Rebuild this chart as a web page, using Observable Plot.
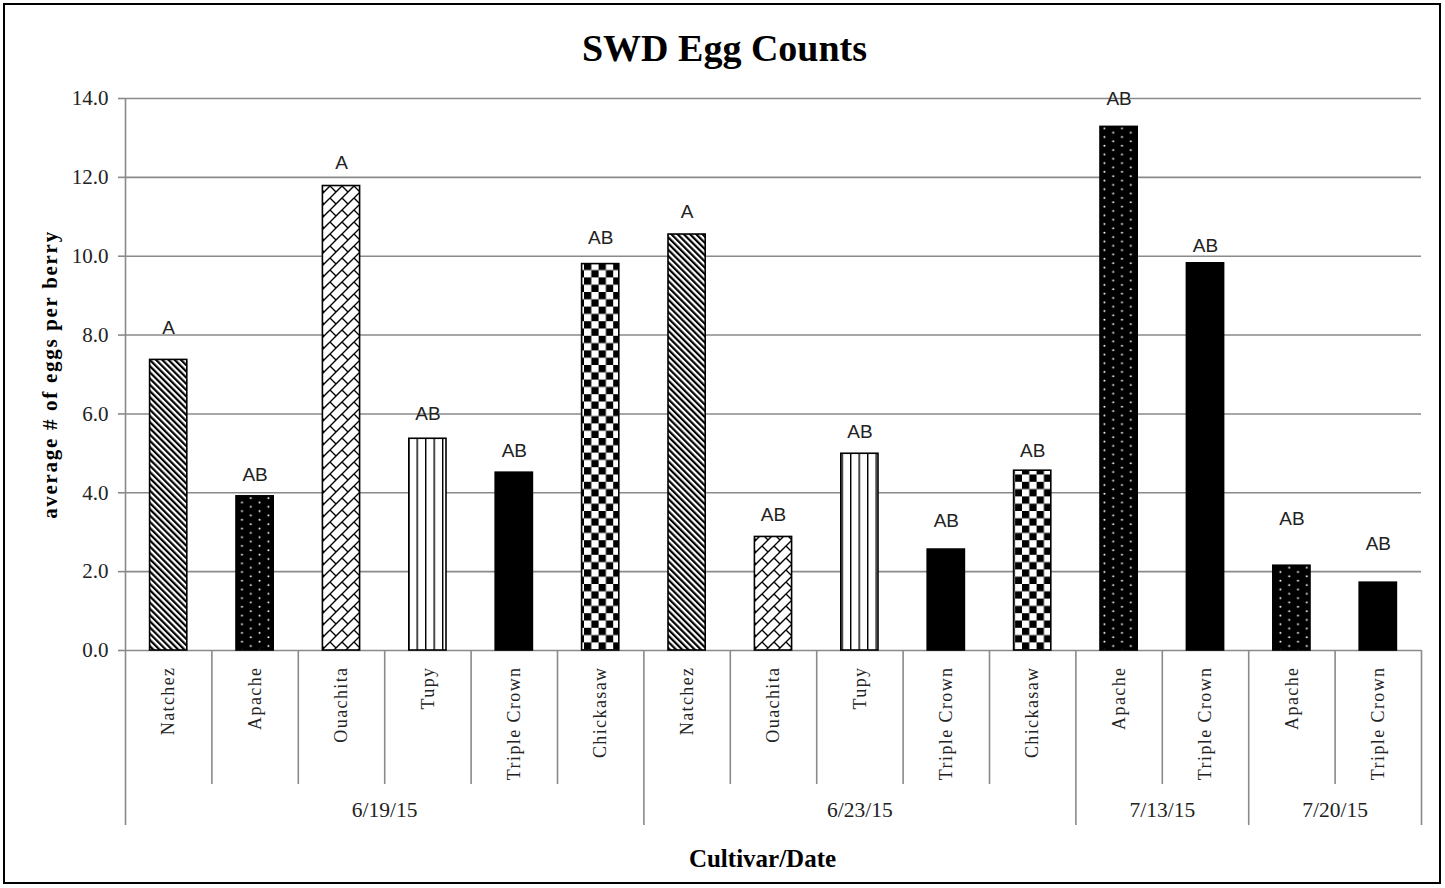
<!DOCTYPE html>
<html>
<head>
<meta charset="utf-8">
<script src="https://cdn.jsdelivr.net/npm/d3@7"></script>
<script src="https://cdn.jsdelivr.net/npm/@observablehq/plot@0.6"></script>
<style>
  html, body { margin: 0; padding: 0; background: #fff; }
  #wrap { position: relative; width: 1445px; height: 888px; overflow: hidden; }
  #border { position: absolute; left: 3px; top: 3px; width: 1438px; height: 881px; box-sizing: border-box; border: 2px solid #000; pointer-events: none; }
</style>
</head>
<body>
<div id="wrap"><div id="chart"></div><div id="border"></div></div>
<script>
// ---- data ----
const cultivars = ["Natchez", "Apache", "Ouachita", "Tupy", "Triple Crown", "Chickasaw",
                   "Natchez", "Ouachita", "Tupy", "Triple Crown", "Chickasaw",
                   "Apache", "Triple Crown",
                   "Apache", "Triple Crown"];
const dates = ["6/19/15", "6/19/15", "6/19/15", "6/19/15", "6/19/15", "6/19/15",
               "6/23/15", "6/23/15", "6/23/15", "6/23/15", "6/23/15",
               "7/13/15", "7/13/15",
               "7/20/15", "7/20/15"];
const eggsPerBerry = [7.37, 3.91, 11.78, 5.37, 4.51, 9.80,
                      10.55, 2.88, 4.99, 2.56, 4.56,
                      13.28, 9.82,
                      2.15, 1.72];
const letters = ["A", "AB", "A", "AB", "AB", "AB",
                 "A", "AB", "AB", "AB", "AB",
                 "AB", "AB",
                 "AB", "AB"];
// height (in eggs/berry units) at which each significance letter sits
const letterHeights = [8.18, 4.46, 12.36, 5.99, 5.07, 10.47,
                       11.12, 3.44, 5.55, 3.28, 5.06,
                       13.99, 10.27,
                       3.34, 2.70];
const yTicks = [0, 2, 4, 6, 8, 10, 12, 14];
const chartTitle = "SWD Egg Counts";
const yTitle = "average # of eggs per berry";
const xTitle = "Cultivar/Date";

// ---- derived tables ----
const rows = cultivars.map((c, i) => ({
  i, cultivar: c, date: dates[i], eggs: eggsPerBerry[i], letter: letters[i], letterY: letterHeights[i]
}));
const groups = d3.groups(rows, d => d.date).map(([date, rs]) => ({
  date, start: d3.min(rs, r => r.i), end: d3.max(rs, r => r.i) + 1
}));
const groupBounds = Array.from(new Set(groups.flatMap(g => [g.start, g.end])));
const cultivarBounds = d3.range(1, cultivars.length).filter(b => !groupBounds.includes(b));

const patternOf = {
  "Natchez": "url(#pat-natchez)",
  "Apache": "url(#pat-apache)",
  "Ouachita": "url(#pat-ouachita)",
  "Tupy": "url(#pat-tupy)",
  "Triple Crown": "#000",
  "Chickasaw": "url(#pat-chickasaw)"
};

const serif = "'Liberation Serif', 'Times New Roman', serif";
const sans = "'Liberation Sans', Arial, sans-serif";
const gridGray = "#8a8a8a";

const plot = Plot.plot({
  width: 1445,
  height: 888,
  marginLeft: 125,
  marginRight: 24,
  marginTop: 98,
  marginBottom: 238,
  style: { fontFamily: serif, background: "#fff", overflow: "visible" },
  x: { domain: [0, cultivars.length], axis: null },
  y: { domain: [0, 14], axis: null },
  color: { type: "identity" },
  marks: [
    Plot.gridY(yTicks, { stroke: gridGray, strokeOpacity: 1, strokeWidth: 1.6 }),
    Plot.axisY(yTicks, {
      tickSize: 7, tickPadding: 10, tickFormat: d3.format(".1f"),
      fontSize: 21, fontFamily: serif, color: "#222", stroke: gridGray, strokeWidth: 1.6, label: null
    }),
    Plot.ruleX([0], { y1: 0, y2: 14, stroke: gridGray, strokeWidth: 1.6 }),
    // category dividers below the axis
    Plot.ruleX(cultivarBounds, { y1: 0, y2: -3.4, stroke: gridGray, strokeWidth: 1.6 }),
    Plot.ruleX(groupBounds, { y1: 0, y2: -4.44, stroke: gridGray, strokeWidth: 1.6 }),
    // bars
    Plot.rectY(rows, {
      x1: d => d.i, x2: d => d.i + 1, y: "eggs",
      fill: d => patternOf[d.cultivar],
      stroke: "#000", strokeWidth: 1.6,
      insetLeft: 24.6, insetRight: 24.6
    }),
    // significance letters
    Plot.text(rows, {
      x: d => d.i + 0.5, y: "letterY", text: "letter",
      fontFamily: sans, fontSize: 19, fill: "#222", lineAnchor: "middle"
    }),
    // cultivar tick labels
    Plot.text(rows, {
      x: d => d.i + 0.5, y: 0, text: "cultivar", rotate: -90,
      textAnchor: "end", lineAnchor: "middle", dy: 16,
      fontFamily: serif, fontSize: 18, fill: "#222"
    }),
    // date group labels
    Plot.text(groups, {
      x: g => (g.start + g.end) / 2, y: 0, text: "date", dy: 160,
      lineAnchor: "middle", fontFamily: serif, fontSize: 21.5, fill: "#222"
    }),
    // titles
    Plot.text([chartTitle], {
      text: d => d, frameAnchor: "top", dy: -50, dx: -49, lineAnchor: "middle", textAnchor: "middle",
      fontFamily: serif, fontSize: 38, fontWeight: "bold", fill: "#000"
    }),
    Plot.text([yTitle], {
      text: d => d, frameAnchor: "left", rotate: -90, dx: -75, lineAnchor: "middle", textAnchor: "middle",
      fontFamily: serif, fontSize: 21, fontWeight: "bold", fill: "#000"
    }),
    Plot.text([xTitle], {
      text: d => d, frameAnchor: "bottom", dy: 208, dx: -11, lineAnchor: "middle", textAnchor: "middle",
      fontFamily: serif, fontSize: 25, fontWeight: "bold", fill: "#000"
    })
  ]
});

// ---- fill patterns ----
const svgNode = plot.tagName.toLowerCase() === "svg" ? plot : plot.querySelector("svg");
const svg = d3.select(svgNode);
const defs = svg.insert("defs", ":first-child");

// Natchez: wide downward diagonal stripes
const pN = defs.append("pattern").attr("id", "pat-natchez").attr("patternUnits", "userSpaceOnUse")
  .attr("width", 4.4).attr("height", 10).attr("patternTransform", "rotate(-45)");
pN.append("rect").attr("width", 4.4).attr("height", 10).attr("fill", "#fff");
pN.append("rect").attr("width", 2.2).attr("height", 10).attr("fill", "#000");

// Apache: black with white dots
const pA = defs.append("pattern").attr("id", "pat-apache").attr("patternUnits", "userSpaceOnUse")
  .attr("width", 17.6).attr("height", 8.7);
pA.append("rect").attr("width", 17.6).attr("height", 8.7).attr("fill", "#000");
pA.append("circle").attr("cx", 4.4).attr("cy", 2.2).attr("r", 1).attr("fill", "#fff");
pA.append("circle").attr("cx", 13.2).attr("cy", 6.55).attr("r", 1).attr("fill", "#fff");

// Ouachita: diagonal brick
const pO = defs.append("pattern").attr("id", "pat-ouachita").attr("patternUnits", "userSpaceOnUse")
  .attr("width", 12).attr("height", 12);
pO.append("rect").attr("width", 12).attr("height", 12).attr("fill", "#fff");
pO.append("path").attr("d", "M0,12L12,0M-1,1L1,-1M11,13L13,11M6,6L12,12")
  .attr("stroke", "#000").attr("stroke-width", 1.4).attr("fill", "none");

// Tupy: vertical lines
const pT = defs.append("pattern").attr("id", "pat-tupy").attr("patternUnits", "userSpaceOnUse")
  .attr("width", 8.5).attr("height", 10);
pT.append("rect").attr("width", 8.5).attr("height", 10).attr("fill", "#fff");
pT.append("rect").attr("width", 1.4).attr("height", 10).attr("fill", "#000");

// Chickasaw: checkerboard
const pC = defs.append("pattern").attr("id", "pat-chickasaw").attr("patternUnits", "userSpaceOnUse")
  .attr("width", 14.6).attr("height", 14.6);
pC.append("rect").attr("width", 14.6).attr("height", 14.6).attr("fill", "#fff");
pC.append("rect").attr("width", 7.3).attr("height", 7.3).attr("fill", "#000");
pC.append("rect").attr("x", 7.3).attr("y", 7.3).attr("width", 7.3).attr("height", 7.3).attr("fill", "#000");

// the reference's rotated text is drawn long and narrow
svg.selectAll("text")
  .filter(function () { return cultivars.includes(this.textContent); })
  .style("letter-spacing", "1.4px");
svg.selectAll("text")
  .filter(function () { return this.textContent === yTitle; })
  .style("letter-spacing", "1.7px");

document.getElementById("chart").appendChild(plot);
</script>
</body>
</html>
